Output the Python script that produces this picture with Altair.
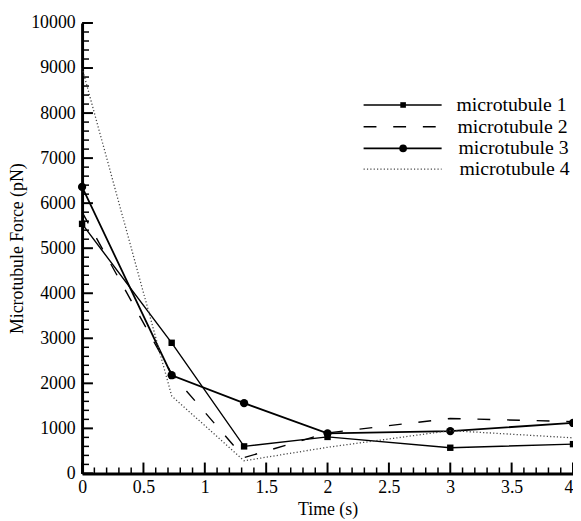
import altair as alt
import pandas as pd

# ---- data ----
time_s = [0, 0.73, 1.32, 2, 3, 4]
series_names = ["microtubule 1", "microtubule 2", "microtubule 3", "microtubule 4"]
mt1 = [5540, 2900, 600, 810, 570, 650]
mt2 = [5800, 2210, 350, 900, 1220, 1150]
mt3 = [6360, 2180, 1560, 890, 940, 1120]
mt4 = [9000, 1720, 280, 580, 950, 790]

y_major = list(range(0, 10001, 1000))
y_minor = [v for v in range(0, 10001, 200) if v % 1000 != 0]
x_major = [0, 0.5, 1, 1.5, 2, 2.5, 3, 3.5, 4]
x_minor = [i / 10 for i in range(41) if i % 5 != 0]

W, H = 497, 456
FONT = "Times New Roman, Liberation Serif, Times, serif"

xs = alt.Scale(domain=[0, 4], nice=False, zero=False)
ys = alt.Scale(domain=[0, 10000], nice=False)

values = [mt1, mt2, mt3, mt4]
styles = [
    dict(strokeWidth=1.4, color="black"),
    dict(strokeWidth=1.4, color="black", strokeDash=[13, 17]),
    dict(strokeWidth=1.8, color="black"),
    dict(strokeWidth=1.3, color="#444444", strokeDash=[1.2, 2.2]),
]
markers = ["square", None, "circle", None]
marker_size = {"square": 42, "circle": 70}

x_axis = alt.Axis(
    values=x_major, format="~g", ticks=False, grid=False,
    domainColor="black", domainWidth=3,
    labelFont=FONT, labelFontSize=18, labelColor="black", labelPadding=5,
    labelFlush=False,
    labelAlign={"condition": {"test": "datum.value == 4", "value": "right"}, "value": "center"},
    title="Time (s)", titleFont=FONT, titleFontSize=18, titleFontWeight="normal",
    titleColor="black", titlePadding=5,
)
y_axis = alt.Axis(
    values=y_major, format="d", ticks=False, grid=False,
    domainColor="black", domainWidth=3,
    labelFont=FONT, labelFontSize=18, labelColor="black", labelPadding=7,
    labelFlush=False,
    title="Microtubule Force (pN)", titleFont=FONT, titleFontSize=18,
    titleFontWeight="normal", titleColor="black", titlePadding=4,
)

X = lambda f: alt.X(f, scale=xs, axis=x_axis)
Y = lambda f: alt.Y(f, scale=ys, axis=y_axis)

layers = []

# series lines and markers
for i, (name, vals) in enumerate(zip(series_names, values)):
    d = pd.DataFrame({"t": time_s, "f": vals, "series": name})
    line = alt.Chart(d).mark_line(**styles[i]).encode(x=X("t:Q"), y=Y("f:Q"))
    layers.append(line)
    if markers[i]:
        pts = alt.Chart(d).mark_point(
            shape=markers[i], filled=True, color="black", opacity=1,
            size=marker_size[markers[i]],
        ).encode(x=X("t:Q"), y=Y("f:Q"))
        layers.append(pts)

# inward ticks
ymaj = alt.Chart(pd.DataFrame({"v": y_major})).mark_rule(color="black", strokeWidth=2).encode(
    y=Y("v:Q"), x=alt.value(0), x2=alt.value(11))
ymin = alt.Chart(pd.DataFrame({"v": y_minor})).mark_rule(color="black", strokeWidth=1.5).encode(
    y=Y("v:Q"), x=alt.value(0), x2=alt.value(7))
xmaj = alt.Chart(pd.DataFrame({"v": x_major})).mark_rule(color="black", strokeWidth=2).encode(
    x=X("v:Q"), y=alt.value(H), y2=alt.value(H - 11))
xmin = alt.Chart(pd.DataFrame({"v": x_minor})).mark_rule(color="black", strokeWidth=1.5).encode(
    x=X("v:Q"), y=alt.value(H), y2=alt.value(H - 6))
layers += [ymaj, ymin, xmaj, xmin]

# legend (drawn inside the plot, top right)
leg_y = [83, 105, 127, 148]
leg_text_x = [379, 380, 381, 382]
for i, name in enumerate(series_names):
    d = pd.DataFrame({"name": [name]})
    st = dict(styles[i])
    st.pop("strokeWidth", None)
    layers.append(
        alt.Chart(d).mark_rule(strokeWidth=styles[i]["strokeWidth"], **st).encode(
            x=alt.value(285), x2=alt.value(364), y=alt.value(leg_y[i]))
    )
    if markers[i]:
        layers.append(
            alt.Chart(d).mark_point(
                shape=markers[i], filled=True, color="black", opacity=1,
                size=marker_size[markers[i]] - 10,
            ).encode(x=alt.value(325), y=alt.value(leg_y[i]))
        )
    layers.append(
        alt.Chart(d).mark_text(
            align="left", baseline="middle", font=FONT, fontSize=20, color="black"
        ).encode(x=alt.value(leg_text_x[i]), y=alt.value(leg_y[i]), text="name:N")
    )

chart = alt.layer(*layers).properties(
    width=W, height=H,
    autosize=alt.AutoSizeParams(type="none"),
    padding={"left": 75, "top": 12, "right": 0, "bottom": 45},
    background="white",
).configure_view(stroke=None).configure_axis(domainWidth=3, domainColor="black")

chart.save("out.html", embed_options={"renderer": "svg", "actions": False})
